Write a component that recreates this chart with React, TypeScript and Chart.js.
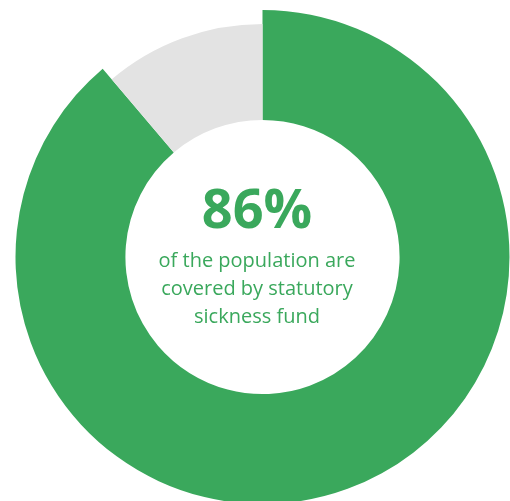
import { useEffect, useRef } from "react";
import { Chart, registerables } from "chart.js";

Chart.register(...registerables);

const categories = ["Statutory sickness fund", "Other"];
const shares = [88.8, 11.2];
const headline = "86%";
const captionLines = ["of the population are", "covered by statutory", "sickness fund"];

const GREEN = "#3aa85c";
const GREY = "#e3e3e3";

const shrinkSecondary = {
  id: "shrinkSecondary",
  beforeDatasetsDraw(chart: any) {
    const meta = chart.getDatasetMeta(0);
    const outer = meta.controller.outerRadius;
    meta.data.forEach((arc: any, i: number) => {
      if (i > 0) arc.outerRadius = outer - 14;
    });
  },
};

export default function App() {
  const ref = useRef<HTMLCanvasElement | null>(null);

  useEffect(() => {
    if (!ref.current) return;
    const chart = new Chart(ref.current, {
      type: "doughnut",
      data: {
        labels: categories,
        datasets: [
          {
            data: shares,
            backgroundColor: [GREEN, GREY],
            borderWidth: 0,
            clip: false as any,
          } as any,
        ],
      },
      options: {
        animation: false,
        responsive: true,
        maintainAspectRatio: false,
        radius: 247,
        cutout: "55.5%",
        rotation: 0,
        events: [],
        layout: { padding: { left: 15, top: 13, right: 0, bottom: 0 } },
        plugins: {
          legend: { display: false },
          tooltip: { enabled: false },
        },
      } as any,
      plugins: [shrinkSecondary],
    });
    return () => chart.destroy();
  }, []);

  const baseStyle: React.CSSProperties = {
    position: "absolute",
    left: 0,
    width: 514,
    textAlign: "center",
    fontFamily: "'Open Sans', sans-serif",
    color: GREEN,
    whiteSpace: "nowrap",
  };

  return (
    <div
      style={{
        position: "fixed",
        left: 0,
        top: 0,
        width: 510,
        height: 501,
        overflow: "hidden",
        background: "#ffffff",
      }}
    >
      <canvas ref={ref} style={{ position: "absolute", left: 0, top: 0 }} />
      <div
        style={{
          ...baseStyle,
          top: 180,
          fontSize: 54,
          lineHeight: "54px",
          fontWeight: 700,
        }}
      >
        {headline}
      </div>
      {captionLines.map((line, i) => (
        <div
          key={i}
          style={{
            ...baseStyle,
            top: 250 + i * 28,
            fontSize: 20,
            lineHeight: "20px",
            fontWeight: 400,
          }}
        >
          {line}
        </div>
      ))}
    </div>
  );
}
